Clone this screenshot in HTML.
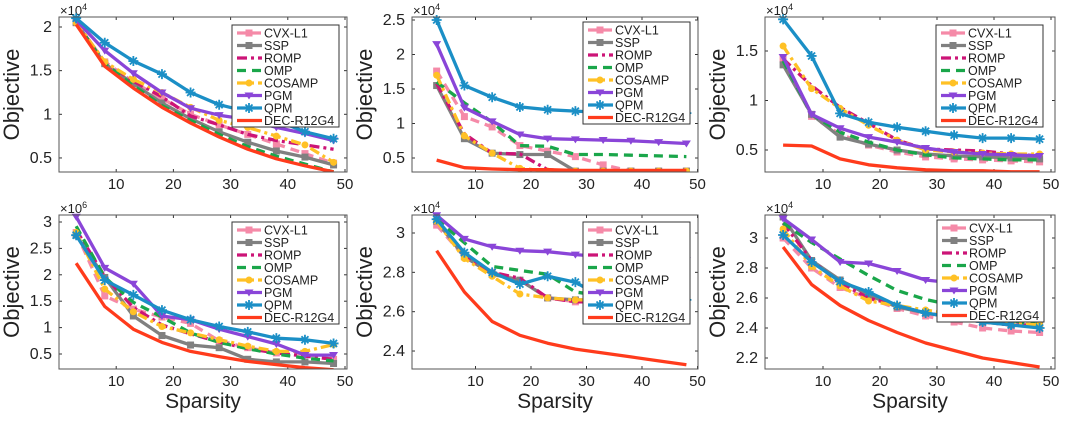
<!DOCTYPE html>
<html><head><meta charset="utf-8"><style>
body{margin:0;background:#fff;}
svg text{font-family:"Liberation Sans",Arial,sans-serif;fill:#222;}
</style></head><body>
<svg id="s" width="1068" height="419" viewBox="0 0 1068 419" xmlns="http://www.w3.org/2000/svg"></svg>
<script>
const S=document.getElementById('s');let h='';
const xs=[3,8,13,18,23,28,33,38,43,48];
const ser={
CVX:{c:'#f58aa8',d:'9,6',m:'sq'},SSP:{c:'#808080',d:'',m:'sq'},ROMP:{c:'#cc1477',d:'10,4,3,4',m:''},
OMP:{c:'#1aa64a',d:'9,6',m:''},COSAMP:{c:'#ffc125',d:'10,4,3,4',m:'ci'},PGM:{c:'#8a45d8',d:'',m:'tri'},
QPM:{c:'#1b8fc6',d:'',m:'star'},DEC:{c:'#ff3b1c',d:'',m:''}};
const names={CVX:'CVX-L1',SSP:'SSP',ROMP:'ROMP',OMP:'OMP',COSAMP:'COSAMP',PGM:'PGM',QPM:'QPM',DEC:'DEC-R12G4'};
const order=['CVX','SSP','ROMP','OMP','COSAMP','PGM','QPM','DEC'];
const P=[
{L:59,R:347,T:17,B:172,x0:59,xs:5.72,yv:2,yp:27,ys:87.3,yt:[0.5,1,1.5,2],yl:['0.5','1','1.5','2'],exp:'4',lg:[232,25],sp:0,
d:{DEC:[2.03,1.55,1.3,1.08,0.9,0.74,0.6,0.49,0.41,0.34],OMP:[2.05,1.58,1.33,1.1,0.93,0.77,0.63,0.52,0.43,0.34],
SSP:[2.05,1.58,1.35,1.13,0.95,0.8,0.68,0.58,0.51,0.42],CVX:[2.05,1.6,1.37,1.18,1.0,0.88,0.77,0.66,0.55,0.44],
ROMP:[2.05,1.6,1.38,1.2,0.98,0.88,0.77,0.7,0.65,0.6],COSAMP:[2.05,1.6,1.4,1.25,1.08,0.93,0.85,0.75,0.65,0.45],
PGM:[2.08,1.73,1.47,1.25,1.07,0.99,0.94,0.85,0.78,0.7],QPM:[2.1,1.82,1.61,1.46,1.25,1.11,1.03,0.93,0.8,0.72]}},
{L:412,R:698,T:17,B:172,x0:420,xs:5.55,yv:2.5,yp:20,ys:69,yt:[0.5,1,1.5,2,2.5],yl:['0.5','1','1.5','2','2.5'],exp:'4',lg:[583,22],sp:0,
d:{QPM:[2.5,1.55,1.38,1.24,1.2,1.18,1.16,1.15,1.15,1.15],PGM:[2.15,1.23,1.03,0.84,0.78,0.77,0.76,0.75,0.73,0.71],
OMP:[1.6,1.3,1.02,0.68,0.67,0.55,0.55,0.54,0.53,0.52],CVX:[1.76,1.1,0.95,0.68,0.6,0.52,0.4,0.31,0.31,0.31],
SSP:[1.55,0.78,0.57,0.55,0.55,0.31,0.31,0.31,0.31,0.31],ROMP:[1.58,0.85,0.57,0.56,0.33,0.31,0.31,0.31,0.31,0.31],
COSAMP:[1.7,0.82,0.57,0.35,0.31,0.31,0.31,0.31,0.31,0.31],DEC:[0.47,0.36,0.34,0.33,0.33,0.32,0.32,0.32,0.32,0.32]}},
{L:765,R:1055,T:17,B:172,x0:766,xs:5.7,yv:1.5,yp:51,ys:99,yt:[0.5,1,1.5],yl:['0.5','1','1.5'],exp:'4',lg:[936,25],sp:0,
d:{QPM:[1.82,1.45,0.87,0.78,0.73,0.69,0.65,0.62,0.62,0.61],COSAMP:[1.55,1.12,0.92,0.75,0.6,0.5,0.48,0.47,0.46,0.46],
ROMP:[1.42,1.15,0.93,0.77,0.6,0.51,0.5,0.49,0.46,0.44],PGM:[1.44,0.86,0.72,0.63,0.58,0.52,0.48,0.46,0.45,0.44],
SSP:[1.36,0.86,0.63,0.56,0.5,0.46,0.44,0.43,0.42,0.41],OMP:[1.4,0.86,0.68,0.58,0.5,0.45,0.42,0.41,0.4,0.4],
CVX:[1.42,0.84,0.66,0.55,0.48,0.43,0.41,0.4,0.39,0.38],DEC:[0.55,0.54,0.41,0.35,0.32,0.3,0.29,0.29,0.28,0.28]}},
{L:59,R:347,T:215,B:369,x0:59,xs:5.72,yv:3,yp:222,ys:52.8,yt:[0.5,1,1.5,2,2.5,3],yl:['0.5','1','1.5','2','2.5','3'],exp:'6',lg:[232,222],sp:1,
d:{PGM:[3.1,2.13,1.83,1.22,1.15,0.97,0.83,0.69,0.48,0.48],QPM:[2.75,1.9,1.62,1.33,1.15,1.02,0.92,0.8,0.77,0.7],
OMP:[2.92,1.95,1.48,1.2,0.9,0.72,0.6,0.5,0.42,0.37],ROMP:[2.85,1.97,1.38,1.05,0.88,0.73,0.6,0.52,0.46,0.4],
CVX:[2.8,1.6,1.35,1.2,1.08,0.75,0.62,0.52,0.5,0.4],COSAMP:[2.8,1.73,1.3,1.02,0.9,0.77,0.65,0.55,0.55,0.68],
SSP:[2.75,1.95,1.22,0.85,0.67,0.62,0.4,0.35,0.35,0.32],DEC:[2.22,1.4,0.97,0.72,0.55,0.45,0.36,0.3,0.24,0.2]}},
{L:412,R:698,T:215,B:369,x0:420,xs:5.55,yv:3,yp:233,ys:196.7,yt:[2.4,2.6,2.8,3],yl:['2.4','2.6','2.8','3'],exp:'4',lg:[583,222],sp:1,
d:{PGM:[3.09,2.97,2.93,2.91,2.905,2.89,2.88,2.87,2.87,2.86],OMP:[3.07,2.95,2.83,2.81,2.79,2.7,2.68,2.67,2.66,2.66],
QPM:[3.07,2.9,2.8,2.74,2.78,2.75,2.67,2.66,2.66,2.66],SSP:[3.06,2.88,2.79,2.76,2.67,2.66,2.66,2.65,2.65,2.65],
ROMP:[3.06,2.88,2.8,2.77,2.67,2.65,2.65,2.65,2.65,2.65],CVX:[3.04,2.88,2.8,2.76,2.67,2.65,2.65,2.65,2.65,2.65],
COSAMP:[3.06,2.87,2.78,2.69,2.67,2.66,2.66,2.66,2.66,2.66],DEC:[2.91,2.7,2.55,2.48,2.44,2.41,2.39,2.37,2.35,2.33]}},
{L:765,R:1055,T:215,B:369,x0:766,xs:5.7,yv:3,yp:238,ys:150,yt:[2.2,2.4,2.6,2.8,3],yl:['2.2','2.4','2.6','2.8','3'],exp:'4',lg:[937,220],sp:1,
d:{PGM:[3.13,2.99,2.84,2.83,2.78,2.72,2.7,2.65,2.6,2.55],OMP:[3.1,2.97,2.86,2.75,2.65,2.59,2.55,2.5,2.45,2.42],
SSP:[3.14,2.85,2.72,2.62,2.54,2.5,2.47,2.44,2.42,2.42],ROMP:[3.1,2.85,2.7,2.6,2.55,2.5,2.47,2.44,2.42,2.42],
QPM:[3.02,2.84,2.71,2.64,2.55,2.5,2.47,2.44,2.42,2.40],CVX:[3.0,2.8,2.67,2.6,2.53,2.48,2.44,2.4,2.38,2.37],
COSAMP:[3.06,2.81,2.68,2.58,2.55,2.52,2.49,2.46,2.43,2.42],DEC:[2.94,2.69,2.55,2.45,2.37,2.3,2.25,2.2,2.17,2.14]}}];
function mk(m,x,y,c){
 if(m=='sq')return `<rect x="${x-3.5}" y="${y-3.5}" width="7" height="7" fill="${c}"/>`;
 if(m=='ci')return `<circle cx="${x}" cy="${y}" r="3.5" fill="${c}"/>`;
 if(m=='tri')return `<polygon points="${x-4.5},${y-3} ${x+4.5},${y-3} ${x},${y+4}" fill="${c}"/>`;
 if(m=='star')return `<path d="M${x-5},${y}H${x+5}M${x},${y-5}V${y+5}M${x-3.5},${y-3.5}L${x+3.5},${y+3.5}M${x+3.5},${y-3.5}L${x-3.5},${y+3.5}" stroke="${c}" stroke-width="1.8"/>`;
 return '';}
P.forEach((p,i)=>{
 const X=v=>p.x0+v*p.xs, Y=v=>p.yp+(p.yv-v)*p.ys;
 h+=`<clipPath id="c${i}"><rect x="${p.L}" y="${p.T-6}" width="${p.R-p.L+6}" height="${p.B-p.T+6}"/></clipPath>`;
 for(let t=10;t<=50;t+=10){const x=X(t);h+=`<line x1="${x}" y1="${p.B}" x2="${x}" y2="${p.B-3}" stroke="#333"/><line x1="${x}" y1="${p.T}" x2="${x}" y2="${p.T+3}" stroke="#333"/><text x="${x}" y="${p.B+17}" font-size="15" text-anchor="middle">${t}</text>`;}
 p.yt.forEach((t,k)=>{const y=Y(t);h+=`<line x1="${p.L}" y1="${y}" x2="${p.L+3}" y2="${y}" stroke="#333"/><line x1="${p.R}" y1="${y}" x2="${p.R-3}" y2="${y}" stroke="#333"/><text x="${p.L-7}" y="${y+5}" font-size="16" text-anchor="end">${p.yl[k]}</text>`;});
 h+=`<text x="${p.L+1}" y="${p.T-2}" font-size="13">×10<tspan font-size="9" dy="-5">${p.exp}</tspan></text>`;
 h+=`<text transform="translate(${p.L-40},${(p.T+p.B)/2}) rotate(-90)" font-size="22" text-anchor="middle">Objective</text>`;
 if(p.sp)h+=`<text x="${(p.L+p.R)/2}" y="408" font-size="21" text-anchor="middle">Sparsity</text>`;
 h+=`<g clip-path="url(#c${i})">`;
 order.forEach(k=>{const s=ser[k],v=p.d[k];const pts=v.map((y,j)=>X(xs[j])+','+Y(y).toFixed(1)).join(' ');
  h+=`<polyline points="${pts}" fill="none" stroke="${s.c}" stroke-width="3.3" stroke-dasharray="${s.d}" stroke-linejoin="round"/>`;
  v.forEach((y,j)=>h+=mk(s.m,X(xs[j]),Y(y),s.c));});
 h+=`</g><rect x="${p.L}" y="${p.T}" width="${p.R-p.L}" height="${p.B-p.T}" fill="none" stroke="#555" stroke-width="1"/>`;
 const [lx,ly]=p.lg;h+=`<rect x="${lx}" y="${ly}" width="107" height="102" fill="#fff" stroke="#333"/>`;
 order.forEach((k,j)=>{const s=ser[k],y=ly+8+j*12.5;
  h+=`<line x1="${lx+5}" y1="${y}" x2="${lx+30}" y2="${y}" stroke="${s.c}" stroke-width="3.3" stroke-dasharray="${s.d}"/>`+mk(s.m,lx+17,y,s.c)+
  `<text x="${lx+32}" y="${y+4.5}" font-size="12.5">${names[k]}</text>`;});
});
S.innerHTML=h;
</script>
</body></html>
